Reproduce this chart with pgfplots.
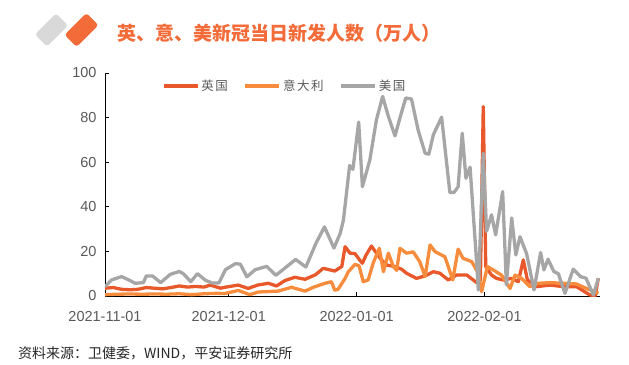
\documentclass[border=0pt]{standalone}
\usepackage{fontspec}
\setmainfont{Liberation Sans}
\newfontfamily\cjk{Noto Sans CJK SC}
\usepackage{pgfplots}
\pgfplotsset{compat=1.18}
\definecolor{ukc}{HTML}{E8582A}
\definecolor{itc}{HTML}{F78C3C}
\definecolor{usc}{HTML}{A6A6A6}
\definecolor{titlec}{HTML}{F26B38}
\definecolor{iconc}{HTML}{D9D9D9}
\definecolor{txtc}{HTML}{595959}
\begin{document}
\begin{tikzpicture}[x=1bp,y=1bp]
\useasboundingbox (0,0) rectangle (629,364);
\node[fill=iconc, rotate=45, minimum width=30bp, minimum height=17bp, rounded corners=3bp, inner sep=0pt] at (51.5,334) {};
\node[fill=titlec, rotate=45, minimum width=31bp, minimum height=17bp, rounded corners=3bp, inner sep=0pt] at (81.5,334) {};
\node[anchor=west, inner sep=0pt, text=titlec, font=\cjk\bfseries\fontsize{19bp}{22bp}\selectfont] at (117,331) {英、意、美新冠当日新发人数（万人）};
\node[anchor=west, inner sep=0pt, text=black!85, font=\cjk\fontsize{14bp}{16bp}\selectfont] at (18,11) {资料来源：卫健委，WIND，平安证券研究所};
\begin{axis}[
  at={(105bp,68bp)}, anchor=south west,
  scale only axis, width=495bp, height=223bp,
  xmin=0, xmax=120, ymin=0, ymax=100,
  axis x line=bottom, axis y line=left,
  axis line style={-, black, line width=0.8bp},
  tick align=inside, major tick length=4bp,
  tick style={black, line width=0.8bp},
  xtick={0,30,61,92},
  xticklabels={2021-11-01,2021-12-01,2022-01-01,2022-02-01},
  ytick={0,20,40,60,80,100},
  /pgf/number format/assume math mode=true,
  tick label style={font=\fontsize{14.5bp}{17bp}\selectfont, text=txtc},
  yticklabel style={xshift=-5bp},
  xticklabel style={yshift=-12bp},
  legend style={at={(0.363,0.942)}, anchor=center, draw=none, fill=none,
    legend columns=3, font=\cjk\fontsize{12.5bp}{14bp}\selectfont\addfontfeatures{LetterSpace=12}, text=txtc,
    /tikz/every even column/.append style={column sep=14bp},
    legend cell align=left},
  legend image code/.code={\draw[#1, line width=3.3bp] (0bp,0bp) -- (34bp,0bp);},
  every axis plot/.append style={line width=3.3bp, line join=round, no markers},
]
\addplot[ukc] coordinates {
(0,3.5)(2,3.8)(4,3.0)(6,2.8)(8,3.0)(10,3.8)(12,3.5)(14,3.2)(16,3.8)(18,4.5)(20,4.0)(22,4.3)(24,4.0)(25.5,4.9)(28,3.5)(29,3.9)(32.3,4.9)(34.7,3.4)(37,4.9)(39.6,5.7)(41.6,4.5)(43.6,6.9)(46,8.4)(48.5,7.5)(51,9.5)(52.9,12.4)(55.7,11.2)(57.4,13.2)(58.2,22.1)(59.4,19.2)(60.6,19.0)(61.8,16)(62.4,14.7)(63.3,18.4)(64.6,22.4)(65.8,19.2)(67,16.2)(68.3,13.9)(70.3,13.2)(71.9,12)(73.1,10.2)(75.5,7.9)(77.6,9)(79.6,10.9)(81.2,10.2)(83.2,7.2)(85.2,9.4)(87.7,9.4)(90.1,6)(91,7.2)(91.7,85)(92.3,13.2)(93.7,9.4)(94.9,7.9)(96.5,7.2)(98.6,7.9)(100.2,6.4)(101.4,16.2)(102.4,7.2)(104.6,4.2)(107.9,4.9)(111.1,4.2)(114.3,4.2)(117.5,0.5)(118.8,0)(119.6,8)
};
\addlegendentry{英国}
\addplot[itc] coordinates {
(0,0.6)(3,0.8)(6,0.9)(9,0.8)(12,0.9)(15,0.8)(18,1.0)(21,0.6)(24,1.0)(27,1.2)(29,1.1)(32.3,2.5)(35.1,0.6)(37.2,1.8)(42,2.2)(45.2,3.9)(48.5,2.2)(50.5,3.9)(53.3,5.7)(54.9,6.4)(55.7,2.6)(56.5,3.0)(58.2,7.9)(59,10.9)(60.6,14.2)(61.6,13.5)(62.6,6.4)(63.8,7.2)(65,14.7)(66.5,21.4)(67.5,10.9)(68.7,19.2)(69.9,13.2)(70.7,11.5)(71.5,21.4)(73.1,19.2)(74.7,19.8)(76.3,15.4)(77.6,8.7)(78.8,22.9)(80,19.9)(82.4,17.6)(84.3,7.2)(85.6,21)(86.8,16.9)(88.9,15.4)(90.5,10.2)(91.3,1.9)(92.7,13.2)(94.1,11.7)(96.1,9.4)(98.2,3.4)(99.4,9.4)(101,7.9)(103,4.2)(105,5.7)(107.9,6)(111.1,5.7)(114.3,5.4)(116.7,3.4)(118.8,1.9)(119.6,1.2)
};
\addlegendentry{意大利}
\addplot[usc] coordinates {
(0,4.2)(1.6,7.2)(4,8.7)(6,7)(7.3,5.7)(9.3,6)(10,9)(11.5,9)(13.5,6)(15.8,9.7)(18,11)(19,10)(20.8,6.4)(22.4,10)(24.4,7)(26,5.8)(27.6,5.8)(29.2,11.8)(31.6,14.5)(32.8,14.3)(34.4,8.6)(36.4,11.8)(39.2,13.3)(41.4,9.3)(43,11.6)(46.2,16.4)(48.7,13)(51.1,23.5)(53.2,31)(55.5,21.5)(57,28)(57.8,34)(59.3,58.5)(60.1,56.8)(61.5,78)(62.4,49)(64.2,61)(65.8,79)(67.3,89.5)(68.7,80.5)(70.3,71.8)(71.6,80.5)(72.9,88.8)(74.3,88.3)(75.9,74.5)(77.6,64)(78.5,63.6)(79.6,72.3)(81.6,80.2)(83.6,46.4)(84.6,46.4)(85.6,49)(86.6,73)(87.5,52.8)(88.5,57.8)(90.1,14.7)(90.5,2.7)(91.7,64)(92.5,29)(93.7,36.4)(94.7,27.4)(96.4,46.8)(97.3,5)(98.6,35)(99.6,18.4)(100.6,26.6)(102.2,19)(104,2.7)(105.6,19.5)(106.4,11.7)(107.4,16.5)(108.8,11)(109.9,10)(111.5,1.2)(113.5,12)(115.3,8.7)(116.6,8)(118.4,0.5)(119.6,8)
};
\addlegendentry{美国}
\end{axis}
\end{tikzpicture}
\end{document}
